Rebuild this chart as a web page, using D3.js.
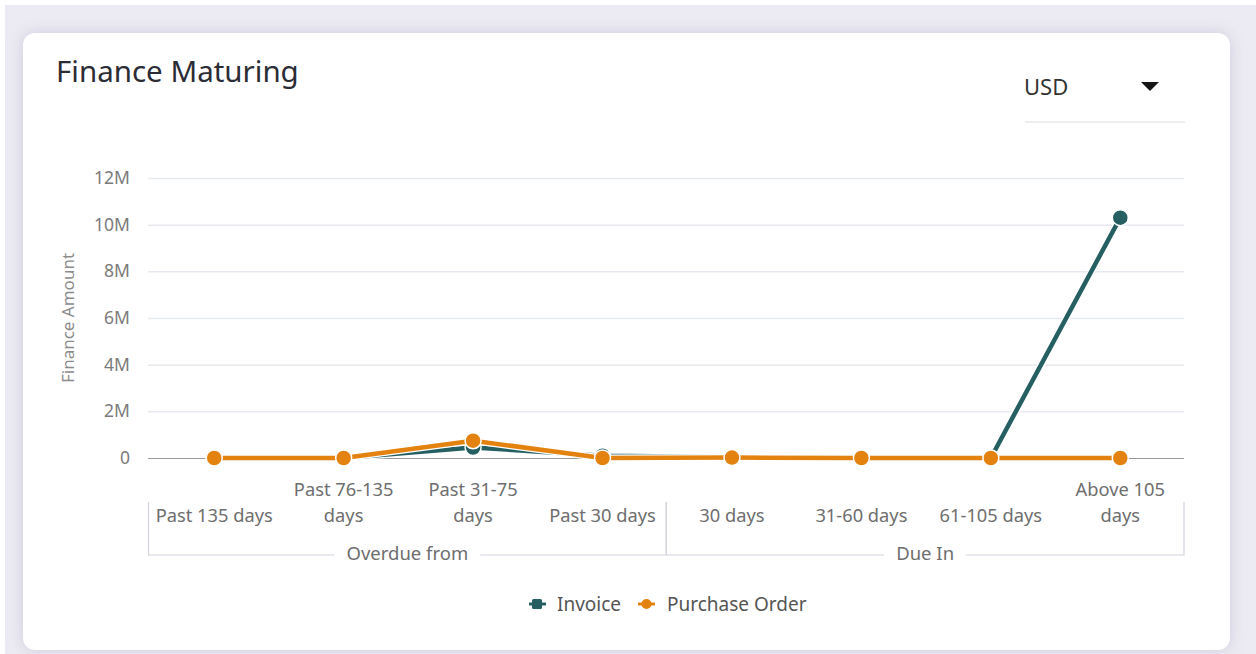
<!DOCTYPE html>
<html>
<head>
<meta charset="utf-8">
<script src="https://cdn.jsdelivr.net/npm/d3@7"></script>
<style>
  html, body { margin: 0; padding: 0; }
  body { width: 1256px; height: 654px; background: #fff; overflow: hidden; font-family: "Noto Sans", "Open Sans", sans-serif; }
  .page { position: absolute; left: 5px; top: 5px; width: 1251px; height: 649px; background: #ecebf3; }
  .card { position: absolute; left: 23px; top: 33px; width: 1207px; height: 617px; background: #fff; border-radius: 12px; box-shadow: 0 0 14px rgba(180,178,205,0.55); }
  svg { position: absolute; left: 0; top: 0; }
</style>
</head>
<body>
<div class="page"></div>
<div class="card"></div>
<svg id="chart" width="1256" height="654"></svg>
<script>
var categories = ['Past 135 days', 'Past 76-135 days', 'Past 31-75 days', 'Past 30 days', '30 days', '31-60 days', '61-105 days', 'Above 105 days']
var categoryLines = [['Past 135 days'], ['Past 76-135', 'days'], ['Past 31-75', 'days'], ['Past 30 days'], ['30 days'], ['31-60 days'], ['61-105 days'], ['Above 105', 'days']]
var groupNames = ['Overdue from', 'Due In']
var groupFirst = [0, 4]
var groupLast = [3, 7]
var invoice = [0, 0, 450000, 100000, 40000, 0, 0, 10300000]
var purchaseOrder = [0, 0, 740000, 0, 20000, 0, 0, 0]
var yTicks = [0, 2000000, 4000000, 6000000, 8000000, 10000000, 12000000]

var invoiceColor = '#255f62'
var poColor = '#e3820f'

var svg = d3.select('#chart')

var plotLeft = 148, plotRight = 1184, plotTop = 178, plotBottom = 458

var x = d3.scaleBand()
  .domain(categories)
  .range([plotLeft + 1.5, plotRight + 1])
  .padding(0)

var y = d3.scaleLinear()
  .domain([0, 12000000])
  .range([plotBottom, plotTop])

// title + currency selector
svg.append('text')
  .attr('x', 56).attr('y', 82)
  .attr('font-size', 29.5)
  .attr('fill', '#2c2c35')
  .text('Finance Maturing')

svg.append('text')
  .attr('x', 1024).attr('y', 95)
  .attr('font-size', 22)
  .attr('fill', '#333')
  .text('USD')

svg.append('path')
  .attr('d', 'M1141,82 L1159,82 L1150,91 Z')
  .attr('fill', '#161616')

svg.append('line')
  .attr('x1', 1025).attr('x2', 1185)
  .attr('y1', 122).attr('y2', 122)
  .attr('stroke', '#dcdcdc').attr('stroke-width', 1)

// gridlines
var yAxis = d3.axisLeft(y)
  .tickValues(yTicks)
  .tickSize(-(plotRight - plotLeft))
  .tickPadding(18)
  .tickFormat(function(d) { return d === 0 ? '0' : (d / 1000000) + 'M' })

var gy = svg.append('g')
  .attr('transform', 'translate(' + plotLeft + ',0)')
  .call(yAxis)

gy.select('.domain').remove()
gy.selectAll('.tick line')
  .attr('stroke', function(d) { return d === 0 ? '#9a9a9a' : '#e6e9ef' })
  .attr('stroke-width', function(d) { return d === 0 ? 1 : 1.5 })
gy.selectAll('.tick text')
  .attr('font-family', '"Noto Sans", sans-serif')
  .attr('font-size', 17.5)
  .attr('fill', '#7b7b7b')

svg.append('text')
  .attr('transform', 'translate(74,' + ((plotTop + plotBottom) / 2) + ') rotate(-90)')
  .attr('text-anchor', 'middle')
  .attr('font-size', 17)
  .attr('fill', '#8c8c8c')
  .text('Finance Amount')

// category labels, bottom aligned
svg.selectAll('.cat')
  .data(categoryLines)
  .enter()
  .append('text')
  .attr('class', 'cat')
  .attr('text-anchor', 'middle')
  .attr('font-size', 18.3)
  .attr('fill', '#6e6e6e')
  .each(function(lines, i) {
    var t = d3.select(this)
    lines.forEach(function(line, j) {
      t.append('tspan')
        .attr('x', x(categories[i]) + x.bandwidth() / 2)
        .attr('y', 522 - (lines.length - 1 - j) * 26)
        .text(line)
    })
  })

// group brackets
var bracketTop = 502, bracketY = 555
groupNames.forEach(function(name, g) {
  var x0 = x(categories[groupFirst[g]]) - 1
  var x1 = x(categories[groupLast[g]]) + x.bandwidth() - 1
  var mid = (x0 + x1) / 2
  var label = svg.append('text')
    .attr('x', mid).attr('y', bracketY + 5)
    .attr('text-anchor', 'middle')
    .attr('font-size', 18.5)
    .attr('fill', '#6e6e6e')
    .text(name)
  var w = label.node().getComputedTextLength() / 2 + 12
  var path = 'M' + x0 + ',' + bracketTop + ' L' + x0 + ',' + bracketY + ' L' + (mid - w) + ',' + bracketY +
    ' M' + (mid + w) + ',' + bracketY + ' L' + x1 + ',' + bracketY + ' L' + x1 + ',' + bracketTop
  svg.append('path')
    .attr('d', path)
    .attr('fill', 'none')
    .attr('stroke', '#d3d3e0')
    .attr('stroke-width', 1.2)
})

// series
var line = d3.line()
  .x(function(d, i) { return x(categories[i]) + x.bandwidth() / 2 })
  .y(function(d) { return y(d) })

var series = [
  { name: 'Invoice', values: invoice, color: invoiceColor },
  { name: 'Purchase Order', values: purchaseOrder, color: poColor }
]

series.forEach(function(s, k) {
  svg.append('path')
    .datum(s.values)
    .attr('d', line)
    .attr('fill', 'none')
    .attr('stroke', '#fff')
    .attr('stroke-width', 7)
  svg.append('path')
    .datum(s.values)
    .attr('d', line)
    .attr('fill', 'none')
    .attr('stroke', s.color)
    .attr('stroke-width', 4.5)
  svg.selectAll('.pt' + k)
    .data(s.values)
    .enter()
    .append('circle')
    .attr('class', 'pt' + k)
    .attr('cx', function(d, i) { return x(categories[i]) + x.bandwidth() / 2 })
    .attr('cy', function(d) { return y(d) })
    .attr('r', 8)
    .attr('fill', s.color)
    .attr('stroke', '#fff')
    .attr('stroke-width', 1.5)
})

// legend
var legend = svg.append('g')
legend.append('line').attr('x1', 529).attr('x2', 546).attr('y1', 604).attr('y2', 604)
  .attr('stroke', invoiceColor).attr('stroke-width', 3)
legend.append('rect').attr('x', 532).attr('y', 599).attr('width', 10).attr('height', 10).attr('rx', 1.5)
  .attr('fill', invoiceColor)
legend.append('text').attr('x', 557).attr('y', 611)
  .attr('font-size', 19).attr('fill', '#555').text('Invoice')
legend.append('line').attr('x1', 638).attr('x2', 655).attr('y1', 604).attr('y2', 604)
  .attr('stroke', poColor).attr('stroke-width', 3)
legend.append('circle').attr('cx', 646.5).attr('cy', 604).attr('r', 5)
  .attr('fill', poColor)
legend.append('text').attr('x', 667).attr('y', 611)
  .attr('font-size', 19).attr('fill', '#555').text('Purchase Order')
</script>
</body>
</html>
